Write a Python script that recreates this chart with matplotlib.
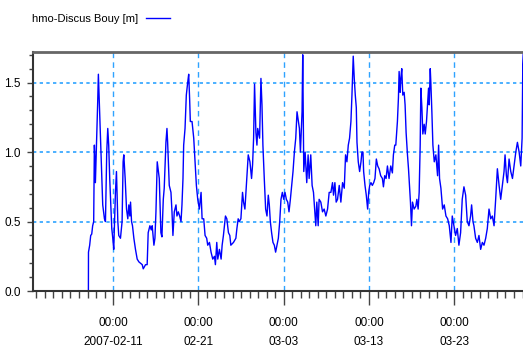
import pandas as pd
import numpy as np
import matplotlib
matplotlib.use("Agg")
import matplotlib.pyplot as plt
import matplotlib.dates as mdates
from matplotlib.ticker import MultipleLocator

# hmo at Discus buoy; time in days from 2007-02-11 00:00
DAYS = [
    -2.90, -2.89, -2.75, -2.63, -2.51, -2.40, -2.28, -2.20, -2.16, -2.12,
    -2.08, -1.81, -1.73, -1.61, -1.49, -1.34, -1.22, -1.02, -0.90, -0.75,
    -0.63, -0.52, -0.40, -0.32, -0.16, -0.04, 0.07, 0.15, 0.27, 0.39,
    0.47, 0.55, 0.66, 0.86, 1.05, 1.17, 1.25, 1.41, 1.57, 1.72,
    1.84, 1.96, 2.04, 2.16, 2.27, 2.43, 2.62, 2.82, 3.02, 3.41,
    3.53, 3.80, 3.99, 4.11, 4.31, 4.47, 4.58, 4.78, 4.90, 5.02,
    5.17, 5.41, 5.60, 5.72, 5.88, 5.99, 6.19, 6.31, 6.39, 6.58,
    6.78, 6.90, 7.01, 7.17, 7.37, 7.48, 7.64, 7.80, 7.96, 8.07,
    8.19, 8.27, 8.43, 8.58, 8.74, 8.86, 8.97, 9.05, 9.25, 9.45,
    9.60, 9.76, 9.92, 10.11, 10.31, 10.43, 10.62, 10.78, 10.97, 11.09,
    11.29, 11.48, 11.68, 11.88, 11.99, 12.15, 12.27, 12.46, 12.66, 12.78,
    12.93, 13.05, 13.17, 13.33, 13.52, 13.68, 13.80, 14.11, 14.39, 14.51,
    14.66, 14.78, 14.98, 15.17, 15.29, 15.45, 15.64, 15.84, 16.04, 16.23,
    16.35, 16.47, 16.58, 16.74, 16.86, 16.95, 17.17, 17.33, 17.45, 17.56,
    17.72, 17.88, 18.04, 18.19, 18.31, 18.43, 18.58, 18.74, 18.90, 19.05,
    19.21, 19.37, 19.53, 19.68, 19.84, 20.00, 20.15, 20.31, 20.47, 20.62,
    20.78, 20.94, 21.09, 21.25, 21.41, 21.56, 21.72, 21.84, 21.96, 22.07,
    22.15, 22.23, 22.35, 22.51, 22.70, 22.86, 22.98, 23.17, 23.33, 23.49,
    23.64, 23.76, 23.88, 24.04, 24.15, 24.35, 24.55, 24.74, 24.94, 25.14,
    25.33, 25.53, 25.72, 25.84, 26.00, 26.15, 26.31, 26.51, 26.70, 26.90,
    27.10, 27.25, 27.41, 27.57, 27.72, 27.88, 28.00, 28.15, 28.27, 28.39,
    28.51, 28.59, 28.74, 28.90, 29.06, 29.17, 29.29, 29.37, 29.53, 29.68,
    29.84, 29.96, 30.08, 30.23, 30.39, 30.55, 30.70, 30.86, 31.02, 31.18,
    31.37, 31.57, 31.69, 31.84, 32.00, 32.16, 32.35, 32.55, 32.74, 32.86,
    33.02, 33.14, 33.33, 33.45, 33.53, 33.65, 33.73, 33.84, 33.96, 34.12,
    34.23, 34.35, 34.51, 34.63, 34.74, 34.86, 34.98, 35.10, 35.29, 35.49,
    35.61, 35.76, 35.88, 36.00, 36.08, 36.20, 36.31, 36.47, 36.59, 36.74,
    36.86, 36.98, 37.06, 37.18, 37.25, 37.37, 37.49, 37.65, 37.84, 38.04,
    38.16, 38.27, 38.43, 38.63, 38.82, 39.02, 39.22, 39.41, 39.61, 39.76,
    39.95, 40.15, 40.35, 40.54, 40.74, 40.93, 41.13, 41.33, 41.52, 41.72,
    41.91, 42.03, 42.19, 42.30, 42.50, 42.70, 42.89, 43.09, 43.29, 43.48,
    43.68, 43.87, 44.07, 44.27, 44.46, 44.66, 44.85, 45.05, 45.25, 45.44,
    45.64, 45.83, 45.95, 46.11, 46.23, 46.42, 46.62, 46.82, 47.01, 47.21,
    47.40, 47.60, 47.79, 47.95, 48.03, 48.11, 48.19, 48.27,
]
HMO = [
    0.00, 0.28, 0.33, 0.40, 0.41, 0.47, 0.50, 1.05, 0.98, 0.88,
    0.78, 1.36, 1.56, 1.34, 1.14, 0.83, 0.62, 0.52, 0.50, 1.00,
    1.17, 1.05, 0.81, 0.69, 0.45, 0.38, 0.30, 0.47, 0.71, 0.86,
    0.69, 0.50, 0.40, 0.38, 0.50, 0.93, 0.98, 0.81, 0.59, 0.52,
    0.62, 0.54, 0.64, 0.50, 0.47, 0.38, 0.30, 0.23, 0.21, 0.19,
    0.16, 0.19, 0.19, 0.42, 0.47, 0.44, 0.47, 0.33, 0.38, 0.57,
    0.93, 0.81, 0.42, 0.39, 0.66, 0.74, 1.07, 1.17, 1.07, 0.76,
    0.71, 0.57, 0.40, 0.57, 0.62, 0.54, 0.57, 0.54, 0.50, 0.62,
    0.81, 1.05, 1.17, 1.41, 1.50, 1.56, 1.38, 1.22, 1.22, 1.10,
    0.93, 0.76, 0.66, 0.59, 0.71, 0.52, 0.52, 0.40, 0.38, 0.33,
    0.35, 0.28, 0.23, 0.25, 0.19, 0.35, 0.23, 0.30, 0.23, 0.33,
    0.40, 0.47, 0.54, 0.52, 0.42, 0.40, 0.33, 0.35, 0.38, 0.45,
    0.52, 0.50, 0.52, 0.71, 0.64, 0.59, 0.78, 0.98, 0.93, 0.81,
    0.91, 1.10, 1.49, 1.14, 1.05, 1.17, 1.10, 1.53, 1.34, 1.05,
    0.81, 0.59, 0.54, 0.69, 0.62, 0.50, 0.42, 0.35, 0.33, 0.28,
    0.33, 0.38, 0.50, 0.66, 0.71, 0.66, 0.71, 0.66, 0.64, 0.57,
    0.66, 0.76, 0.86, 1.00, 1.10, 1.29, 1.22, 1.17, 1.00, 1.17,
    1.29, 1.70, 0.86, 1.00, 0.78, 0.98, 0.81, 0.98, 0.76, 0.71,
    0.57, 0.47, 0.64, 0.47, 0.66, 0.64, 0.57, 0.59, 0.54, 0.59,
    0.71, 0.71, 0.78, 0.69, 0.78, 0.64, 0.66, 0.76, 0.64, 0.78,
    0.74, 0.98, 0.93, 1.05, 1.10, 1.22, 1.41, 1.69, 1.53, 1.41,
    1.32, 1.07, 0.93, 0.86, 0.93, 1.00, 1.00, 0.86, 0.76, 0.69,
    0.59, 0.71, 0.76, 0.78, 0.76, 0.78, 0.81, 0.95, 0.90, 0.88,
    0.83, 0.81, 0.75, 0.83, 0.81, 0.90, 0.81, 0.90, 0.85, 0.98,
    1.05, 1.05, 1.22, 1.39, 1.58, 1.43, 1.53, 1.60, 1.41, 1.43,
    1.34, 1.14, 0.98, 0.88, 0.76, 0.64, 0.47, 0.64, 0.59, 0.61,
    0.66, 0.59, 0.71, 1.05, 1.46, 1.32, 1.13, 1.20, 1.13, 1.22,
    1.34, 1.46, 1.34, 1.60, 1.50, 1.29, 1.05, 0.93, 0.98, 0.83,
    1.05, 0.81, 0.74, 0.59, 0.62, 0.54, 0.52, 0.47, 0.35, 0.54,
    0.47, 0.40, 0.45, 0.33, 0.42, 0.66, 0.75, 0.69, 0.50, 0.47,
    0.54, 0.62, 0.50, 0.47, 0.38, 0.35, 0.40, 0.30, 0.35, 0.33,
    0.38, 0.45, 0.59, 0.52, 0.54, 0.47, 0.66, 0.88, 0.76, 0.66,
    0.76, 0.86, 0.98, 0.83, 0.78, 0.95, 0.86, 0.81, 0.90, 1.00,
    1.07, 1.00, 0.90, 1.10, 1.63, 1.71, 1.29, 1.22,
]
TICK_DATES = ["2007-02-11", "2007-02-21", "2007-03-03", "2007-03-13", "2007-03-23"]
TICK_LABELS = ["00:00\n2007-02-11", "00:00\n02-21", "00:00\n03-03", "00:00\n03-13", "00:00\n03-23"]
Y_TICKS = [0.0, 0.5, 1.0, 1.5]

base = pd.Timestamp("2007-02-11")
times = base + pd.to_timedelta(DAYS, unit="D")

plt.rcParams["font.family"] = ["Liberation Sans", "DejaVu Sans"]

fig = plt.figure(figsize=(5.23, 3.49), dpi=100)
ax = fig.add_axes([0.064, 0.166, 0.94, 0.685])

ax.plot(times, HMO, color="#0000ff", lw=1.0, label="hmo-Discus Bouy [m]")

ax.set_xlim(base - pd.Timedelta(days=9.34), base + pd.Timedelta(days=48.3))
ax.set_ylim(0, 1.72)

ax.set_xticks(mdates.date2num(pd.to_datetime(TICK_DATES)))
ax.set_xticklabels(TICK_LABELS, fontsize=8.5, linespacing=1.75)
ax.xaxis.set_minor_locator(mdates.DayLocator())
ax.set_yticks(Y_TICKS)
ax.set_yticklabels([f"{v:.1f}" for v in Y_TICKS], fontsize=8.5)
ax.yaxis.set_minor_locator(MultipleLocator(0.1))

ax.tick_params(axis="x", which="major", length=10, width=1, color="#444444", pad=9)
ax.tick_params(axis="x", which="minor", length=5, width=1, color="#444444")
ax.tick_params(axis="y", which="major", length=4, width=1, color="#444444", pad=5)
ax.tick_params(axis="y", which="minor", length=3, width=1, color="#444444")

ax.grid(True, axis="y", which="major", color="#2ea3ff", linestyle=(0, (2, 2)), lw=1.2)
ax.grid(True, axis="x", which="major", color="#2ea3ff", linestyle=(0, (4, 3)), lw=1.0)

for side in ["left", "bottom"]:
    ax.spines[side].set_color("#333333")
    ax.spines[side].set_linewidth(1.5)
ax.spines["top"].set_color("#666666")
ax.spines["top"].set_linewidth(2)
ax.spines["right"].set_visible(False)

# series name first, line sample after it
ax.legend(loc="lower left", bbox_to_anchor=(-0.012, 1.10), frameon=False, fontsize=8,
          handlelength=2.2, handletextpad=0.7, markerfirst=False, borderaxespad=0)

fig.savefig("out.png", dpi=100)
